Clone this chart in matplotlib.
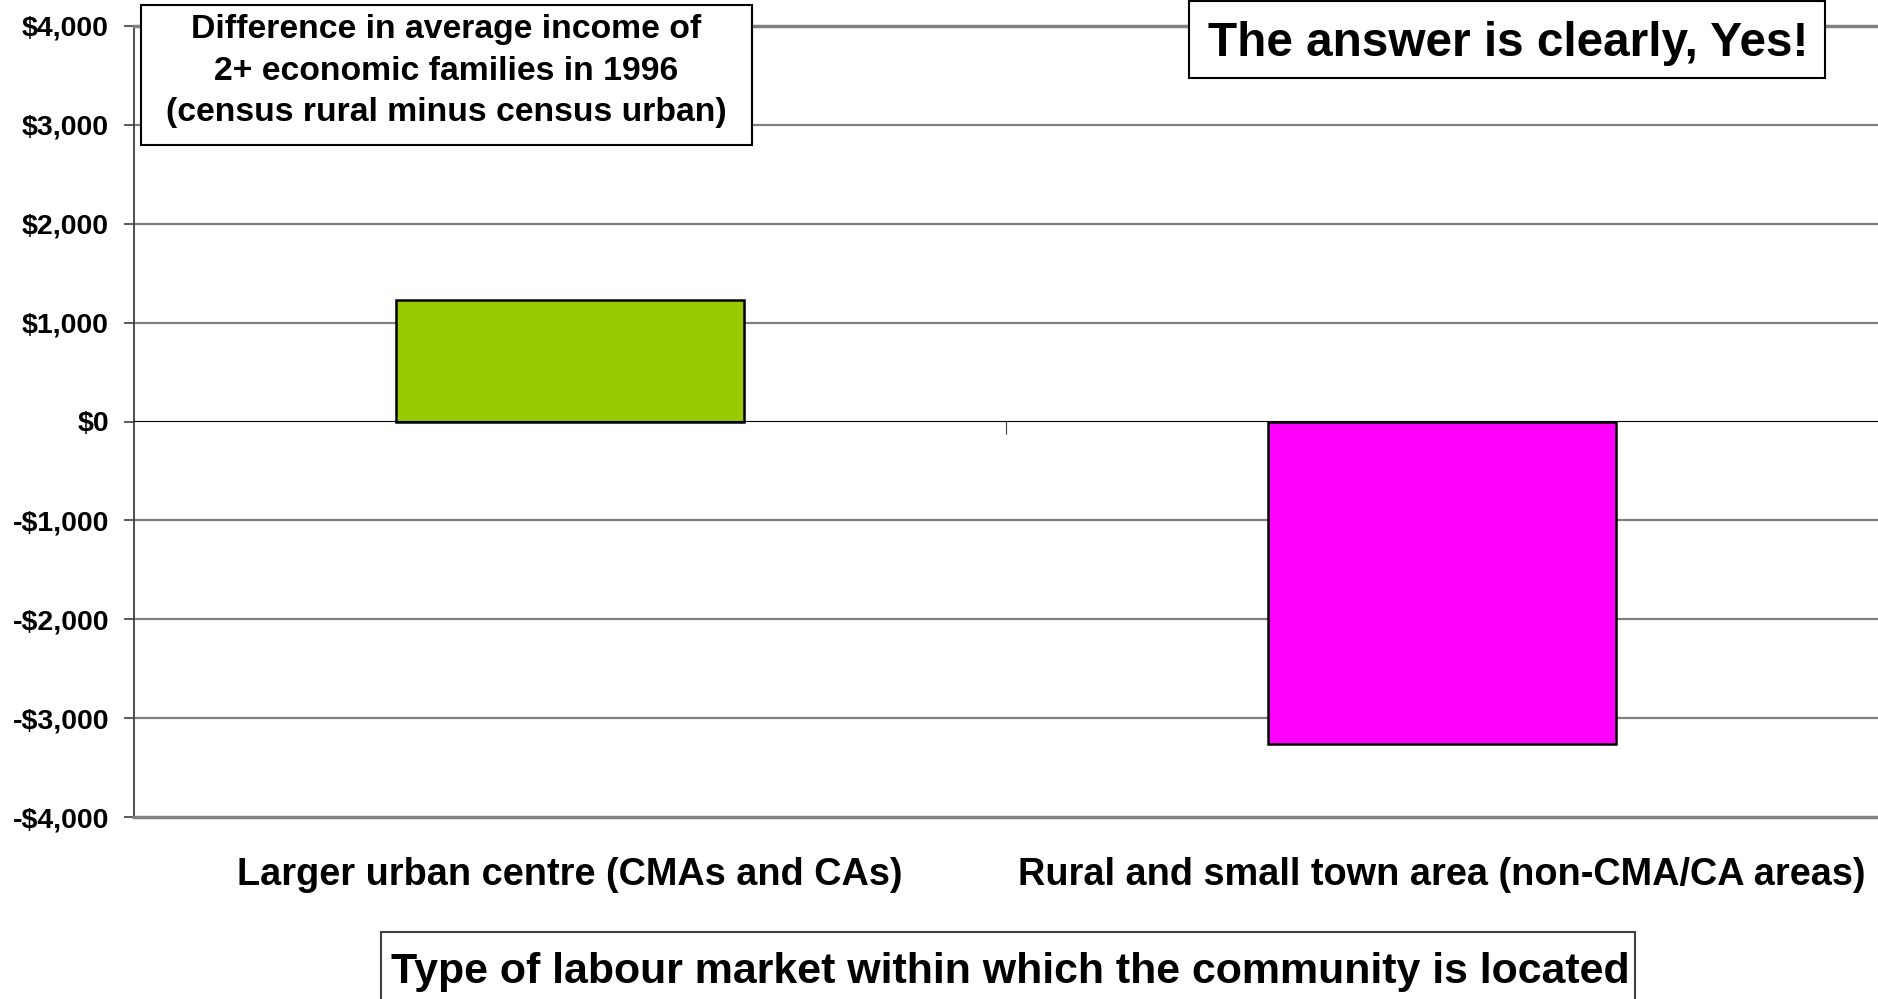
import matplotlib
matplotlib.use("Agg")
import matplotlib.pyplot as plt
from matplotlib.patches import Rectangle
from matplotlib.ticker import FuncFormatter

categories = ["Larger urban centre (CMAs and CAs)",
              "Rural and small town area (non-CMA/CA areas)"]
values = [1225, -3260]
bar_colors = ["#99CC00", "#FF00FF"]
y_ticks = [-4000, -3000, -2000, -1000, 0, 1000, 2000, 3000, 4000]
box_title = "Difference in average income of\n2+ economic families in 1996\n(census rural minus census urban)"
answer_text = "The answer is clearly, Yes!"
x_title = "Type of labour market within which the community is located"

plt.rcParams['font.family'] = ['Liberation Sans', 'DejaVu Sans']
plt.rcParams['font.weight'] = 'bold'

W, H = 1878, 999
fig = plt.figure(figsize=(W / 100, H / 100), dpi=100)
ax = fig.add_axes([134 / W, 1 - 817 / H, 1 - 134 / W, (817 - 26) / H])

x = list(range(len(categories)))
ax.bar(x, values, width=0.4, color=bar_colors, edgecolor="black", linewidth=1.8, zorder=3)
ax.set_xlim(-0.5, 1.5)
ax.set_ylim(-4000, 4000)
ax.set_yticks(y_ticks)
ax.yaxis.set_major_formatter(FuncFormatter(
    lambda v, p: ("-$" if v < 0 else "$") + f"{abs(int(v)):,}"))
for v in y_ticks[1:-1]:
    if v != 0:
        ax.axhline(v, color="#808080", linewidth=1.6, zorder=1)

ax.tick_params(axis="y", direction="out", length=7, width=1.2, color="#404040",
               pad=11, labelsize=20.5)
ax.set_xticks(x)
ax.set_xticklabels(categories, fontsize=27.3, fontweight="bold")
ax.tick_params(axis="x", length=0, pad=28.5)

for s in ["top", "bottom"]:
    ax.spines[s].set_color("#808080")
    ax.spines[s].set_linewidth(2.5)
ax.spines["left"].set_color("#404040")
ax.spines["left"].set_linewidth(1.3)
ax.spines["right"].set_visible(False)

# category axis at zero
sec = ax.secondary_xaxis(0.5)
sec.set_xticks([0.5])
sec.set_xticklabels([""])
sec.tick_params(axis="x", direction="in", length=9, width=0.8, color="#404040")
sec.spines["bottom"].set_color("black")
sec.spines["bottom"].set_linewidth(1.4)
sec.set_zorder(4)

def fig_box(x0, y0, x1, y1, lw=1.5, ec="black"):
    r = Rectangle((x0 / W, 1 - y1 / H), (x1 - x0) / W, (y1 - y0) / H,
                  transform=fig.transFigure, facecolor="white", edgecolor=ec,
                  linewidth=lw, zorder=10)
    fig.add_artist(r)

fig_box(141, 5, 752, 145)
fig.text(446 / W, 1 - 71 / H, box_title, ha="center", va="center", fontsize=24.3,
         fontweight="bold", linespacing=1.45, zorder=11)

fig_box(1189, 1, 1825, 78)
fig.text(1508 / W, 1 - 44 / H, answer_text, ha="center", va="center", fontsize=34.4,
         fontweight="bold", zorder=11)

fig_box(381, 932, 1635, 1010, ec="#404040")
fig.text(1010 / W, 1 - 972 / H, x_title, ha="center", va="center", fontsize=30.9,
         fontweight="bold", zorder=11)

fig.savefig("out.png", dpi=100)
